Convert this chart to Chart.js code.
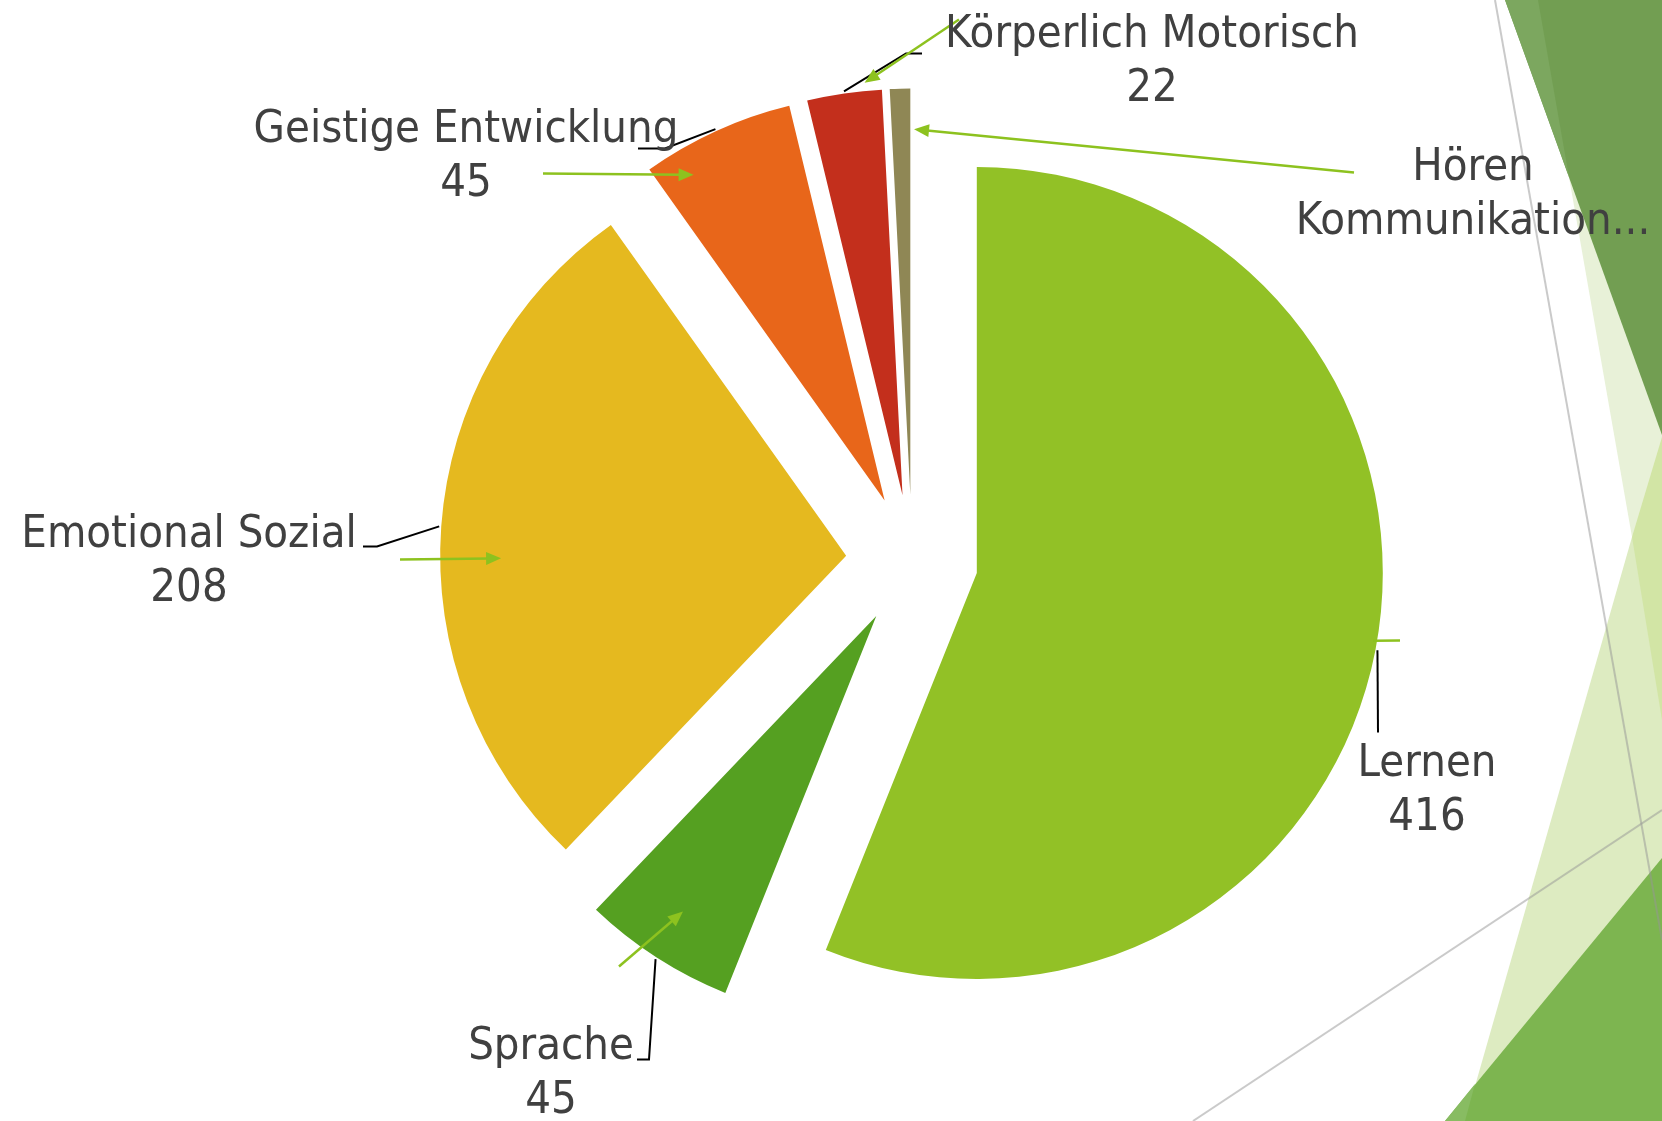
<!DOCTYPE html>
<html lang="de">
<head>
<meta charset="utf-8">
<title>Förderschwerpunkte</title>
<script src="https://cdn.jsdelivr.net/npm/chart.js"></script>
<style>
  html, body { margin: 0; padding: 0; background: #fff; }
  #wrap { width: 1662px; height: 1121px; position: relative; }
</style>
</head>
<body>
<div id="wrap"><canvas id="pieChart"></canvas></div>
<script>
  "use strict";

  // --- data ---------------------------------------------------------------
  const categories = [
    "Lernen",
    "Sprache",
    "Emotional Sozial",
    "Geistige Entwicklung",
    "Körperlich Motorisch",
    "Hören Kommunikation..."
  ];
  const values = [416, 45, 208, 45, 22, 6];
  // how each category name is broken into lines in its label box
  const labelLines = [
    ["Lernen"],
    ["Sprache"],
    ["Emotional Sozial"],
    ["Geistige Entwicklung"],
    ["Körperlich Motorisch"],
    ["Hören", "Kommunikation..."]
  ];
  const sliceColours = ["#92C126", "#55A021", "#E5B91F", "#E8661A", "#C32F1C", "#8F8755"];

  // --- layout -------------------------------------------------------------
  const EXPLODE = 66;        // px each slice is pulled out of the pie
  const PIE_RADIUS = 406;
  const LABEL_MAX_LINES = 2;
  const LINE_HEIGHT = 54;
  const TEXT_COLOUR = "#404040";
  const LABEL_FONT = "45px 'DejaVu Sans', 'Noto Sans', sans-serif";
  const TEXT_SQUEEZE = 0.9;
  const LEADER_COLOUR = "#000000";
  const ARROW_COLOUR = "#8DC21F";

  // label boxes relative to the pie centre (first baseline); leaders run from the
  // slice's outer mid point through the given points; arrows point at (t, r) in the slice
  const labelLayout = [
    { x: 515, y: 215, leader: [[466, 172]], arrowFrom: [488, 80], arrowTo: [0.494, 0.99], head: false },
    { x: -361, y: 498, leader: [[-263, 499], [-275, 499]], arrowFrom: [-293, 406], arrowTo: [0.52, 0.87], head: true },
    { x: -723, y: -14, leader: [[-535, -14], [-549, -14]], arrowFrom: [-512, -1], arrowTo: [0.455, 0.85], head: true },
    { x: -446, y: -419, leader: [[-247, -412], [-274, -412]], arrowFrom: [-369, -387], arrowTo: [0.23, 0.93], head: true },
    { x: 240, y: -514, leader: [[-6, -507], [10, -507]], arrowFrom: [47, -541], arrowTo: [0.78, 1.02], head: true },
    { x: 561, y: -381, leader: null, arrowFrom: [442, -388], arrowTo: [1.2, 0.9], head: true }
  ];

  // slide theme decoration (Facet), canvas pixels
  const themeShapes = [
    { fill: "#E8F1D8", pts: [[1538, 0], [1662, 0], [1662, 537], [1632, 537]] },
    { fill: "#DDEBC1", pts: [[1632, 537], [1662, 537], [1662, 1121], [1465, 1121]] },
    { fill: "#D2E5A5", pts: [[1632, 537], [1662, 437], [1662, 720]] },
    { fill: "#729E52", pts: [[1505, 0], [1662, 0], [1662, 435]] },
    { fill: "#7CA75F", pts: [[1505, 0], [1538, 0], [1569, 177]] },
    { fill: "#7DB550", pts: [[1662, 858], [1662, 1121], [1445, 1121]] },
    { fill: "#88BC62", pts: [[1475, 1084], [1465, 1121], [1445, 1121]] }
  ];
  const themeLines = [
    [[1495, 0], [1662, 940]],
    [[1193, 1121], [1662, 810]]
  ];

  function explodeShift(arc) {
    const mid = (arc.startAngle + arc.endAngle) / 2;
    return { x: Math.cos(mid) * EXPLODE, y: Math.sin(mid) * EXPLODE };
  }

  function slicePoint(arc, t, rho) {
    const shift = explodeShift(arc);
    const a = arc.startAngle + t * (arc.endAngle - arc.startAngle);
    return {
      x: arc.x + shift.x + Math.cos(a) * rho * arc.outerRadius,
      y: arc.y + shift.y + Math.sin(a) * rho * arc.outerRadius
    };
  }

  const themePlugin = {
    id: "facetTheme",
    beforeDraw(chart) {
      const { ctx, width, height } = chart;
      ctx.save();
      ctx.fillStyle = "#ffffff";
      ctx.fillRect(0, 0, width, height);
      themeShapes.forEach((shape) => {
        ctx.beginPath();
        shape.pts.forEach(([x, y], i) => (i ? ctx.lineTo(x, y) : ctx.moveTo(x, y)));
        ctx.closePath();
        ctx.fillStyle = shape.fill;
        ctx.fill();
      });
      ctx.strokeStyle = "rgba(150, 150, 150, 0.5)";
      ctx.lineWidth = 2;
      themeLines.forEach(([a, b]) => {
        ctx.beginPath();
        ctx.moveTo(a[0], a[1]);
        ctx.lineTo(b[0], b[1]);
        ctx.stroke();
      });
      ctx.restore();
    }
  };

  const explodePlugin = {
    id: "explodedSlices",
    beforeDatasetDraw(chart, args) {
      const { ctx } = chart;
      args.meta.data.forEach((arc) => {
        const shift = explodeShift(arc);
        ctx.save();
        ctx.translate(shift.x, shift.y);
        arc.draw(ctx);
        ctx.restore();
      });
      return false;
    }
  };

  function drawArrow(ctx, from, to, head) {
    const ang = Math.atan2(to.y - from.y, to.x - from.x);
    const len = 15;
    const half = 6.5;
    const endX = head ? to.x - Math.cos(ang) * len * 0.7 : to.x;
    const endY = head ? to.y - Math.sin(ang) * len * 0.7 : to.y;
    ctx.beginPath();
    ctx.moveTo(from.x, from.y);
    ctx.lineTo(endX, endY);
    ctx.stroke();
    if (!head) return;
    const bx = to.x - Math.cos(ang) * len;
    const by = to.y - Math.sin(ang) * len;
    ctx.beginPath();
    ctx.moveTo(to.x, to.y);
    ctx.lineTo(bx - Math.sin(ang) * half, by + Math.cos(ang) * half);
    ctx.lineTo(bx + Math.sin(ang) * half, by - Math.cos(ang) * half);
    ctx.closePath();
    ctx.fill();
  }

  const labelPlugin = {
    id: "sliceLabels",
    afterDatasetsDraw(chart) {
      const { ctx } = chart;
      const arcs = chart.getDatasetMeta(0).data;
      if (!arcs.length) return;
      const cx = arcs[0].x;
      const cy = arcs[0].y;

      ctx.save();
      ctx.lineCap = "butt";
      ctx.lineJoin = "miter";

      // black leader lines
      ctx.strokeStyle = LEADER_COLOUR;
      ctx.lineWidth = 2;
      arcs.forEach((arc, i) => {
        const lay = labelLayout[i];
        if (!lay.leader) return;
        const start = slicePoint(arc, 0.5, 1.005);
        ctx.beginPath();
        ctx.moveTo(start.x, start.y);
        lay.leader.forEach(([dx, dy]) => ctx.lineTo(cx + dx, cy + dy));
        ctx.stroke();
      });

      // green arrows
      ctx.strokeStyle = ARROW_COLOUR;
      ctx.fillStyle = ARROW_COLOUR;
      ctx.lineWidth = 2.5;
      arcs.forEach((arc, i) => {
        const lay = labelLayout[i];
        const from = { x: cx + lay.arrowFrom[0], y: cy + lay.arrowFrom[1] };
        const to = slicePoint(arc, lay.arrowTo[0], lay.arrowTo[1]);
        drawArrow(ctx, from, to, lay.head);
      });

      // label text: category lines then value, clipped to the label box
      ctx.fillStyle = TEXT_COLOUR;
      ctx.font = LABEL_FONT;
      ctx.textAlign = "center";
      ctx.textBaseline = "alphabetic";
      arcs.forEach((arc, i) => {
        const lay = labelLayout[i];
        const lines = labelLines[i].concat(String(values[i])).slice(0, LABEL_MAX_LINES);
        lines.forEach((line, k) => {
          ctx.save();
          ctx.translate(cx + lay.x, cy + lay.y + k * LINE_HEIGHT);
          ctx.scale(TEXT_SQUEEZE, 1);
          ctx.fillText(line, 0, 0);
          ctx.restore();
        });
      });
      ctx.restore();
    }
  };

  new Chart(document.getElementById("pieChart"), {
    type: "pie",
    data: {
      labels: categories,
      datasets: [
        {
          data: values,
          backgroundColor: sliceColours,
          borderWidth: 0,
          clip: false
        }
      ]
    },
    options: {
      responsive: true,
      maintainAspectRatio: false,
      animation: false,
      events: [],
      radius: PIE_RADIUS,
      layout: { padding: { left: 162, right: 0, top: 0, bottom: 0 } },
      plugins: {
        legend: { display: false },
        tooltip: { enabled: false }
      }
    },
    plugins: [themePlugin, explodePlugin, labelPlugin]
  });
</script>
</body>
</html>
